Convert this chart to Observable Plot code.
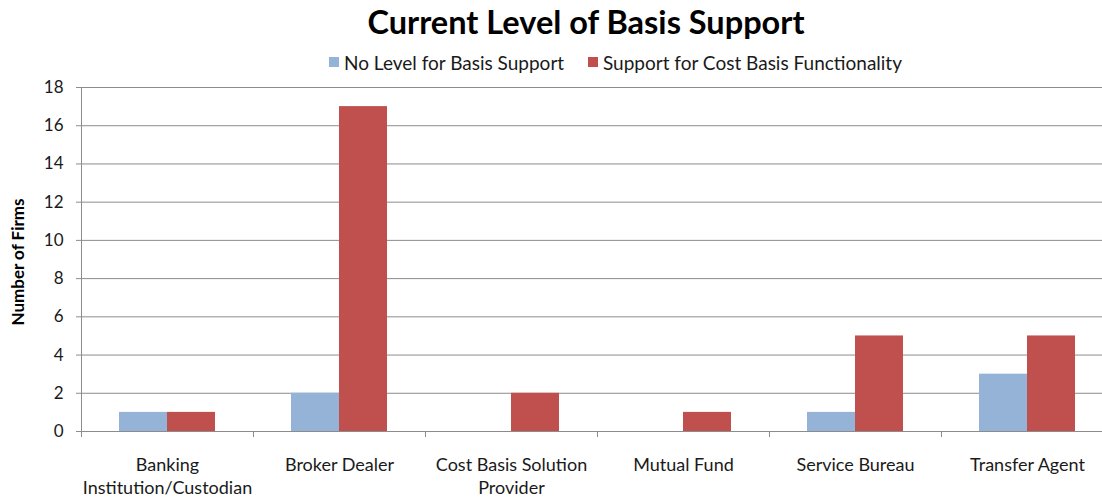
<!DOCTYPE html>
<html>
<head>
<meta charset="utf-8">
<script src="https://cdn.jsdelivr.net/npm/d3@7"></script>
<script src="https://cdn.jsdelivr.net/npm/@observablehq/plot@0.6"></script>
<style>
  html, body { margin: 0; padding: 0; background: #fff; overflow: hidden; }
  #wrap { position: relative; width: 1102px; height: 498px; overflow: hidden; font-family: Lato, "Open Sans", sans-serif; color: #1a1a1a; }
  #title { height: 44px; line-height: 44px; padding-left: 70px; text-align: center; font-weight: bold; font-size: 32.5px; color: #000; }
  #legend { position: relative; height: 36px; font-size: 19px; color: #1a1a1a; }
  .item { position: absolute; top: 0; height: 36px; display: flex; align-items: center; white-space: nowrap; }
  .sw { width: 10px; height: 10px; margin-right: 5px; display: inline-block; }
  #ylab { position: absolute; left: 17px; top: 262px; transform: translate(-50%, -50%) rotate(-90deg); font-weight: bold; font-size: 17px; white-space: nowrap; color: #000; }
  #chart svg { display: block; }
</style>
</head>
<body>
<div id="wrap">
  <div id="title"></div>
  <div id="legend"></div>
  <div id="chart"></div>
  <div id="ylab"></div>
</div>
<script>
const titleText = "Current Level of Basis Support";
const yLabel = "Number of Firms";
const categories = ["Banking Institution/Custodian", "Broker Dealer", "Cost Basis Solution Provider", "Mutual Fund", "Service Bureau", "Transfer Agent"];
const categoryLabels = ["Banking\nInstitution/Custodian", "Broker Dealer", "Cost Basis Solution\nProvider", "Mutual Fund", "Service Bureau", "Transfer Agent"];
const seriesNames = ["No Level for Basis Support", "Support for Cost Basis Functionality"];
const noLevel = [1, 2, 0, 0, 1, 3];
const support = [1, 17, 2, 1, 5, 5];
const yTicks = [0, 2, 4, 6, 8, 10, 12, 14, 16, 18];
const colors = ["#95B3D7", "#C0504D"];
const legendLeft = [329, 588];

document.getElementById("title").textContent = titleText;
document.getElementById("ylab").textContent = yLabel;
const legend = document.getElementById("legend");
seriesNames.forEach((s, i) => {
  const it = document.createElement("div");
  it.className = "item";
  it.style.left = legendLeft[i] + "px";
  const sw = document.createElement("span");
  sw.className = "sw";
  sw.style.background = colors[i];
  const t = document.createElement("span");
  t.textContent = s;
  it.appendChild(sw); it.appendChild(t);
  legend.appendChild(it);
});

const labelMap = new Map(categories.map((c, i) => [c, categoryLabels[i]]));
const rows = categories.flatMap((c, i) => [
  {category: c, series: seriesNames[0], value: noLevel[i]},
  {category: c, series: seriesNames[1], value: support[i]}
]);

const grey = "#8c8c8c";
const chart = Plot.plot({
  width: 1113,
  height: 418,
  marginLeft: 81,
  marginRight: 0,
  marginTop: 7,
  marginBottom: 67,
  style: {fontFamily: "Lato, 'Open Sans', sans-serif", fontSize: "17px", color: "#1a1a1a", background: "white", maxWidth: "none", overflow: "visible"},
  facet: {data: rows, x: "category"},
  fx: {domain: categories, padding: 0, axis: null, label: null},
  x: {domain: seriesNames, paddingInner: 0, paddingOuter: 0.79, axis: null},
  y: {domain: [0, 18], label: null},
  color: {domain: seriesNames, range: colors},
  marks: [
    Plot.gridY({ticks: yTicks, stroke: grey, strokeOpacity: 1}),
    Plot.barY(rows, {x: "series", y: "value", fill: "series"}),
    Plot.frame({anchor: "left", stroke: grey, facetAnchor: "left"}),
    Plot.frame({anchor: "left", stroke: grey, insetTop: 344, insetBottom: -5}),
    Plot.axisY({ticks: yTicks, tickSize: 5, tickPadding: 13, stroke: grey, fill: "#1a1a1a", label: null, fontSize: 17}),
    Plot.text(rows, Plot.selectFirst({
      text: d => labelMap.get(d.category),
      frameAnchor: "bottom",
      lineAnchor: "top",
      dy: 23,
      lineHeight: 1.28,
      fontSize: 18,
      fill: "#1a1a1a"
    }))
  ]
});
document.getElementById("chart").appendChild(chart);
</script>
</body>
</html>
